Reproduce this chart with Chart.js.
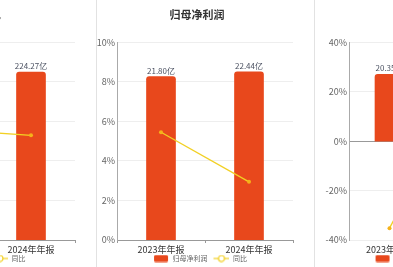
<!DOCTYPE html>
<html><head><meta charset="utf-8">
<script src="https://cdn.jsdelivr.net/npm/chart.js@4.4.0/dist/chart.umd.min.js"></script>
<style>
html,body{margin:0;padding:0;background:#fff;}
body{width:393px;height:267px;overflow:hidden;position:relative;}
.panel{position:absolute;top:0;width:200px;height:267px;}
.sep{position:absolute;top:0;width:1px;height:267px;background:#e2e2e2;z-index:2;}
</style></head><body>
<div class="panel" style="left:-121px"><canvas id="c1" width="200" height="267"></canvas></div>
<div class="panel" style="left:97px"><canvas id="c2" width="200" height="267"></canvas></div>
<div class="panel" style="left:315px"><canvas id="c3" width="200" height="267"></canvas></div>
<div class="sep" style="left:96px"></div>
<div class="sep" style="left:314px"></div>
<script>
// ---- data ----
const categories = ['2023年年报', '2024年年报'];
// 营业收入
const revenueValues = [213.0, 224.27];
const revenueYoy = [5.6, 5.29];
// 归母净利润
const netProfitValues = [21.80, 22.44];
const netProfitYoy = [5.45, 2.94];
// 扣非净利
const deductedValues = [20.35, 25.6];
const deductedYoy = [-35.2, 25.8];
// tick labels
const pctTicksPos = [0, 2, 4, 6, 8, 10];
const pctTicksSigned = [-40, -20, 0, 20, 40];

const FONT = '"Noto Sans CJK SC", "Noto Sans", sans-serif';
const BAR_COLOR = '#E8481C';
const LINE_COLOR = '#F2D023';
const POINT_COLOR = '#F5B21A';

function makeIcon(kind) {
  const c = document.createElement('canvas');
  c.width = 22; c.height = 8;
  const g = c.getContext('2d');
  if (kind === 'bar') {
    g.fillStyle = BAR_COLOR;
    g.beginPath();
    if (g.roundRect) g.roundRect(7, 0.5, 14, 7, 1.5); else g.rect(7, 0.5, 14, 7);
    g.fill();
  } else {
    g.strokeStyle = LINE_COLOR; g.lineWidth = 1.2;
    g.beginPath(); g.moveTo(6, 4); g.lineTo(22, 4); g.stroke();
    g.fillStyle = '#fff';
    g.beginPath(); g.arc(14, 4, 3, 0, Math.PI * 2); g.fill(); g.stroke();
  }
  return c;
}
const barIcon = makeIcon('bar');
const lineIcon = makeIcon('line');

const barLabelPlugin = {
  id: 'barLabels',
  afterDatasetsDraw(chart) {
    const meta = chart.getDatasetMeta(0);
    const ds = chart.data.datasets[0];
    const ctx = chart.ctx;
    ctx.save();
    ctx.font = '8px ' + FONT;
    ctx.fillStyle = '#4a5060';
    ctx.textAlign = 'center';
    ctx.textBaseline = 'bottom';
    meta.data.forEach((bar, i) => {
      ctx.fillText(ds.data[i].toFixed(2) + '亿', bar.x, bar.y - 2);
    });
    ctx.restore();
  }
};

function makeChart(id, opt) {
  const ticks = opt.ticks;
  return new Chart(document.getElementById(id), {
    data: {
      labels: categories,
      datasets: [
        {
          type: 'bar', label: opt.barLabel, data: opt.values, yAxisID: 'y1', order: 1,
          backgroundColor: BAR_COLOR, barThickness: 29,
          borderRadius: { topLeft: 3, topRight: 3, bottomLeft: 0, bottomRight: 0 }, borderSkipped: 'bottom'
        },
        {
          type: 'line', label: '同比', data: opt.yoy, yAxisID: 'y', order: 0,
          borderColor: LINE_COLOR, borderWidth: 1.3, pointRadius: 2,
          pointBackgroundColor: POINT_COLOR, pointBorderColor: POINT_COLOR, pointBorderWidth: 0, tension: 0
        }
      ]
    },
    plugins: [barLabelPlugin],
    options: {
      responsive: false, animation: false,
      layout: { padding: 0 },
      plugins: {
        tooltip: { enabled: false },
        title: {
          display: true, text: opt.title, color: '#333',
          font: { family: FONT, size: 11, weight: 'bold', lineHeight: 1.2 },
          padding: { top: 8, bottom: 21 }
        },
        legend: {
          position: 'bottom', maxHeight: 12,
          labels: {
            usePointStyle: true, pointStyleWidth: 22, boxHeight: 7, padding: 0,
            color: '#666', font: { family: FONT, size: 7 },
            sort: (a, b) => a.datasetIndex - b.datasetIndex,
            generateLabels(chart) {
              const items = Chart.defaults.plugins.legend.labels.generateLabels(chart);
              items.forEach(it => { it.pointStyle = it.datasetIndex === 0 ? barIcon : lineIcon; });
              return items;
            }
          }
        }
      },
      scales: {
        x: {
          offset: true,
          afterFit: s => { s.height = 15; },
          grid: { display: true, drawOnChartArea: false, drawTicks: true, tickLength: 3,
                  color: opt.xTicks ? '#999' : 'rgba(0,0,0,0)', offset: true },
          border: { display: opt.xBorder, color: '#999' },
          ticks: { color: '#333', padding: 1, font: { family: FONT, size: 9 }, maxRotation: 0, autoSkip: false }
        },
        y: {
          position: 'left', min: ticks[0], max: ticks[ticks.length - 1],
          afterFit: s => { s.width = opt.yWidth; },
          afterBuildTicks: s => { s.ticks = ticks.map(v => ({ value: v })); },
          grid: {
            drawTicks: false,
            color: c => (opt.zeroDark && c.tick && c.tick.value === 0) ? '#999' : '#eeeeee',
            lineWidth: 1
          },
          border: { display: true, color: '#aaa' },
          ticks: { color: '#666', padding: 2, font: { family: FONT, size: 9 }, callback: v => v + '%' }
        },
        y1: { display: false, min: opt.barMin, max: opt.barMax }
      }
    }
  });
}

makeChart('c1', { title: '营业收入', barLabel: '营业收入', values: revenueValues, yoy: revenueYoy,
  ticks: pctTicksPos, barMin: 0, barMax: 264, yWidth: 20, xTicks: true, xBorder: true, zeroDark: false });
makeChart('c2', { title: '归母净利润', barLabel: '归母净利润', values: netProfitValues, yoy: netProfitYoy,
  ticks: pctTicksPos, barMin: 0, barMax: 26.4, yWidth: 20, xTicks: true, xBorder: true, zeroDark: false });
makeChart('c3', { title: '扣非净利', barLabel: '扣非净利', values: deductedValues, yoy: deductedYoy,
  ticks: pctTicksSigned, barMin: -30.1, barMax: 30.1, yWidth: 34, xTicks: false, xBorder: false, zeroDark: true });
</script>
</body></html>
